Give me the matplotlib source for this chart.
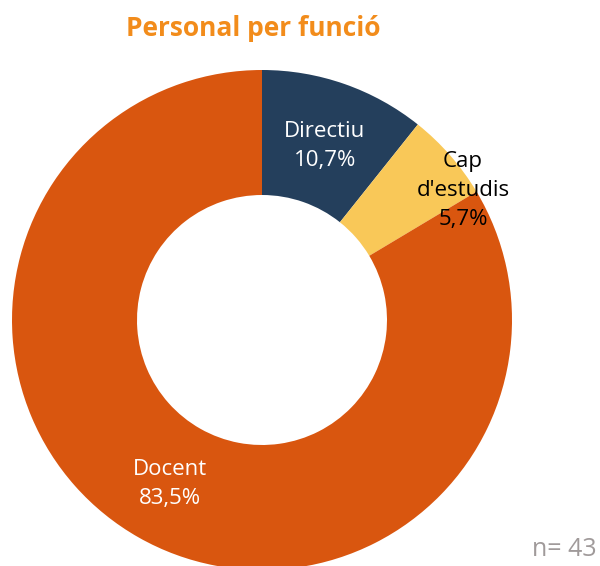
import matplotlib.pyplot as plt

# data
categories = ["Directiu", "Cap\nd'estudis", "Docent"]
values = [10.7, 5.7, 83.5]
colors = ["#243F5C", "#F9C858", "#D9560F"]
text_colors = ["white", "black", "white"]

fig = plt.figure(figsize=(6, 5.66), dpi=100)
ax = fig.add_axes([0, 0, 1, 1])

wedges, _ = ax.pie(values, colors=colors, startangle=90, counterclock=False,
                   center=(262, 246), radius=250,
                   wedgeprops=dict(width=125, edgecolor="none"))

# pie resets the limits, so set them afterwards
ax.set_xlim(0, 600)
ax.set_ylim(0, 566)
ax.set_aspect("equal")
ax.axis("off")

# label positions (pixels, y up)
label_pos = [(325, 420), (463, 375), (170, 82)]
for name, v, pos, tc in zip(categories, values, label_pos, text_colors):
    txt = name + "\n" + f"{v:.1f}".replace(".", ",") + "%"
    ax.text(pos[0], pos[1], txt, ha="center", va="center", color=tc,
            fontsize=16, family="Open Sans", linespacing=1.5)

ax.text(253, 537, "Personal per funció", ha="center", va="center",
        color="#F28C1B", fontsize=19, fontweight="bold", family="Open Sans")
ax.text(597, 16, "n= 43", ha="right", va="center", color="#A09A9A",
        fontsize=18, family="Open Sans")

fig.savefig("out.png", dpi=100)
